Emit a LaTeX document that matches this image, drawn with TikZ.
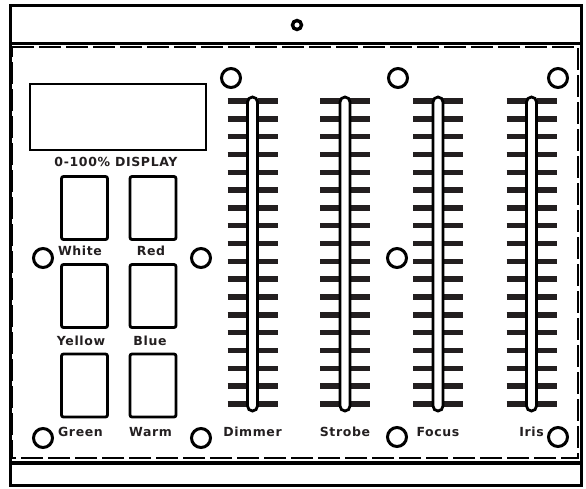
\documentclass[tikz,border=0pt]{standalone}
\usepackage{fontspec}
\setmainfont{Liberation Sans}
\newfontfamily\capfont[LetterSpace=5]{DejaVu Sans Bold}
\usetikzlibrary{positioning}
\definecolor{ink}{HTML}{231F20}
\tikzset{x=1pt, y=-1pt, node distance=2pt, auto,
  frame/.style={line width=3pt},
  panel/.style={line width=2.6pt, dash pattern=on 22pt off 5pt},
  btn/.style={draw, line width=2.8pt, rounded corners=2pt, minimum width=46pt, minimum height=63pt, inner sep=0pt},
  caption/.style={font=\capfont\fontsize{12.5}{13}\selectfont, text=ink, inner sep=0pt},
  knob/.style={draw, circle, line width=3pt, minimum size=19pt, inner sep=0pt},
  tick/.style={draw=ink, line width=5.5pt},
  slotline/.style={line width=2.8pt, rounded corners=5pt}
}

\begin{document}
\begin{tikzpicture}
  \useasboundingbox (0,0) rectangle (586,488);

  % housing
  \draw[frame] (10,5) rectangle (581,485);
  \draw[frame] (10,43) -- (581,43);
  \draw[line width=4pt] (10,463) -- (581,463);
  \draw[panel] (12,47) -- (578,47) -- (578,458) -- (12,458) -- cycle;
  \node (screw) [draw, circle, line width=3.4pt, minimum size=9pt, inner sep=0pt] at (297,25) {};

  % display
  \node (disp) [draw, line width=2.8pt, minimum width=176pt, minimum height=66pt, inner sep=0pt] at (118,117) {};
  \node (disptxt) [caption] at (116,162) {0-100\% DISPLAY};

  % colour buttons
  \node (bW) [btn] at (84.5,208) {};
  \node (bR) [btn] at (153,208) {};
  \node (bY) [btn] at (84.5,296) {};
  \node (bB) [btn] at (153,296) {};
  \node (bG) [btn] at (84.5,385.5) {};
  \node (bM) [btn] at (153,385.5) {};
  \node (White)  [caption] at (80,251) {White};
  \node (Red)    [caption] at (151,251) {Red};
  \node (Yellow) [caption] at (81,341) {Yellow};
  \node (Blue)   [caption] at (150,341) {Blue};
  \node (Green)  [caption] at (80.5,432) {Green};
  \node (Warm)   [caption] at (150.5,432) {Warm};

  % knobs
  \foreach \n/\x/\y in {k1/43/258, k2/201/258, k3/43/438, k4/201/438,
                        k5/231/78, k6/398/78, k7/558/78,
                        k8/397/258, k9/397/437, k10/558/437}
    \node (\n) [knob] at (\x,\y) {};

  % faders
  \foreach \c/\lbl in {252.5/Dimmer, 345/Strobe, 438/Focus, 531.5/Iris} {
    \foreach \i in {0,...,17} {
      \draw[tick] (\c-25,101+17.82*\i) -- (\c-5,101+17.82*\i);
      \draw[tick] (\c+5,101+17.82*\i) -- (\c+25,101+17.82*\i);
    }
    \draw[slotline, fill=white] (\c-5,97) rectangle (\c+5,411);
    \node (\lbl) [caption] at (\c,432) {\lbl};
  }

\end{tikzpicture}
\end{document}
